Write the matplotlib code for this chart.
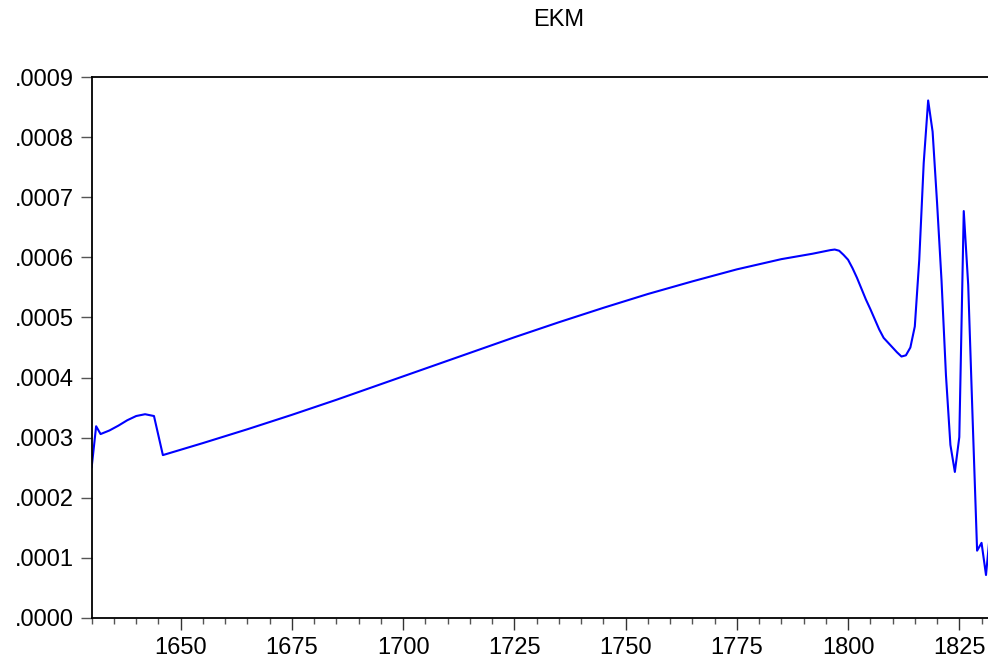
import matplotlib.pyplot as plt
from matplotlib.ticker import MultipleLocator, FuncFormatter

plt.rcParams['font.family'] = ['Liberation Sans', 'DejaVu Sans']

# EKM series (annual, irregular spacing where the path is smooth)
years = [1630, 1631, 1632, 1634, 1636, 1638, 1640, 1642, 1644, 1646,
         1655, 1665, 1675, 1685, 1695, 1705, 1715, 1725, 1735, 1745,
         1755, 1765, 1775, 1785, 1792, 1796, 1797, 1798, 1799, 1800,
         1801, 1802, 1803, 1804, 1805, 1806, 1807, 1808, 1809, 1810,
         1811, 1812, 1813, 1814, 1815, 1816, 1817, 1818, 1819, 1820,
         1821, 1822, 1823, 1824, 1825, 1826, 1827, 1828, 1829, 1830,
         1831, 1832]
ekm = [0.000251, 0.000319, 0.000306, 0.000312, 0.000320, 0.000329, 0.000336, 0.000339, 0.000336, 0.000271,
       0.000291, 0.000314, 0.000338, 0.000363, 0.000389, 0.000415, 0.000441, 0.000467, 0.000492, 0.000516,
       0.000539, 0.000560, 0.000580, 0.000597, 0.000606, 0.000612, 0.000613, 0.000611, 0.000604, 0.000596,
       0.000582, 0.000566, 0.000548, 0.000530, 0.000514, 0.000497, 0.000480, 0.000466, 0.000458, 0.000450,
       0.000442, 0.000435, 0.000437, 0.000450, 0.000485, 0.000596, 0.000757, 0.000861, 0.000809, 0.000691,
       0.000562, 0.000404, 0.000288, 0.000243, 0.000301, 0.000677, 0.000554, 0.000330, 0.000112, 0.000125,
       0.0000715, 0.000150]

fig = plt.figure(figsize=(9.88, 6.64), dpi=100)
ax = fig.add_axes([0.0928, 0.0693, 0.9072, 0.8147])

ax.plot(years, ekm, color='#0000ff', linewidth=1.5)

ax.set_xlim(1630, 1831.45)
ax.set_ylim(0, 0.0009)

ax.xaxis.set_major_locator(MultipleLocator(25))
ax.xaxis.set_minor_locator(MultipleLocator(5))
ax.yaxis.set_major_locator(MultipleLocator(0.0001))
ax.yaxis.set_major_formatter(FuncFormatter(lambda v, p: f"{v:.4f}".lstrip('0')))

ax.tick_params(axis='x', which='major', length=8.5, width=1, color='#333333', pad=5, labelsize=17)
ax.tick_params(axis='x', which='minor', length=4.3, width=1, color='#555555')
ax.tick_params(axis='y', which='major', length=7.7, width=1, color='#555555', pad=5, labelsize=17)

ax.spines['right'].set_visible(False)
for s in ['left', 'bottom', 'top']:
    ax.spines[s].set_linewidth(1.3)

fig.text(559 / 988, 1 - 20 / 664, "EKM", ha='center', va='center', fontsize=17)

fig.savefig('out.png', dpi=100)
